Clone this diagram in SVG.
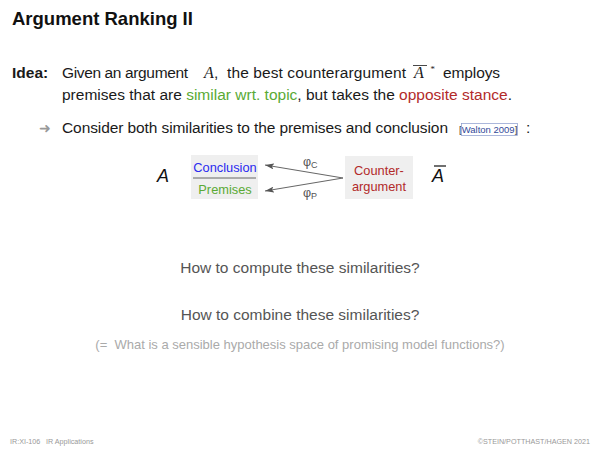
<svg xmlns="http://www.w3.org/2000/svg" width="600" height="450" viewBox="0 0 600 450">
<style>
text{font-family:"Liberation Sans",Arial,sans-serif}
.body{font-size:15.5px;fill:#1a1a1a}
.math{font-family:"Liberation Serif","Times New Roman",serif;font-style:italic}
.grn{fill:#5aaa35}
.red{fill:#b22a2a}
.box{fill:#efefef}
.lbl{font-size:12.8px}
.q{font-size:15.5px;fill:#555;text-anchor:middle}
.foot{font-size:7.2px;fill:#999}
.conn{stroke:#666;stroke-width:1;fill:none;marker-end:url(#ah)}
</style>
<defs>
<marker id="ah" markerWidth="9" markerHeight="6" refX="9" refY="3" orient="auto" markerUnits="userSpaceOnUse">
<path d="M0,0 L9,3 L0,6 L2,3 Z" fill="#555"/>
</marker>
</defs>
<rect width="600" height="450" fill="#fff"/>
<text x="12" y="25" style="font-size:18.5px;font-weight:bold;fill:#111">Argument Ranking II</text>

<g id="idea">
<text x="12" y="78" class="body" style="font-weight:bold">Idea:</text>
<text x="62" y="78" class="body" textLength="126">Given an argument</text>
<text x="204" y="78" class="body math" style="font-size:16px">A</text>
<text x="214" y="78" class="body">,</text>
<text x="227" y="78" class="body" textLength="179">the best counterargument</text>
<text x="414" y="78" class="body math" style="font-size:16px">A</text>
<line x1="413" y1="65.5" x2="427" y2="65.5" stroke="#1a1a1a" stroke-width="0.8"/>
<text x="430" y="72" class="math" style="font-size:9px;fill:#1a1a1a">*</text>
<text x="443" y="78" class="body" textLength="57">employs</text>
<text x="62" y="100" class="body" textLength="450">premises that are <tspan class="grn">similar wrt. topic</tspan>, but takes the <tspan class="red">opposite stance</tspan>.</text>
</g>

<g id="consider">
<text x="39" y="133" style="font-size:14px;fill:#999">➜</text>
<text x="62" y="133" class="body" textLength="386">Consider both similarities to the premises and conclusion</text>
<text x="459" y="133" style="font-size:9.5px;fill:#333">[<tspan fill="#334a99">Walton 2009</tspan>]</text>
<rect x="461.5" y="123.5" width="56" height="12" fill="none" stroke="#8899cc" stroke-width="0.7"/>
<text x="526" y="133" class="body">:</text>
</g>

<g id="argA">
<text x="157" y="182" style="font-size:18px;font-style:italic;fill:#111">A</text>
</g>

<g id="argBox">
<rect x="191" y="155" width="67" height="44" class="box"/>
<text x="225" y="172" class="lbl" style="fill:#2b2bf0;text-anchor:middle">Conclusion</text>
<line x1="193" y1="178" x2="256" y2="178" stroke="#666" stroke-width="1"/>
<text x="225" y="194" class="lbl grn" style="text-anchor:middle">Premises</text>
</g>

<g id="counterBox">
<rect x="345" y="156" width="68" height="43" class="box"/>
<text x="379" y="175" class="lbl red" style="text-anchor:middle">Counter-</text>
<text x="379" y="191" class="lbl red" style="text-anchor:middle">argument</text>
</g>

<g id="argAbar">
<text x="432" y="182" style="font-size:18px;font-style:italic;fill:#111">A</text>
<line x1="434" y1="166" x2="446" y2="166" stroke="#111" stroke-width="1.2"/>
</g>

<g id="connectors">
<line x1="343" y1="178" x2="265" y2="165" class="conn"/>
<line x1="343" y1="178" x2="265" y2="191" class="conn"/>
<text x="303" y="166" style="font-size:12.5px;fill:#555">φ<tspan style="font-size:9px" dy="2">C</tspan></text>
<text x="303" y="197" style="font-size:12.5px;fill:#555">φ<tspan style="font-size:9px" dy="2">P</tspan></text>
</g>

<g id="questions">
<text x="300" y="273" class="q">How to compute these similarities?</text>
<text x="300" y="320" class="q">How to combine these similarities?</text>
<text x="300" y="349" style="font-size:13px;fill:#aaa;text-anchor:middle">(=&#160; What is a sensible hypothesis space of promising model functions?)</text>
</g>

<text x="10" y="444" class="foot">IR:XI-106</text>
<text x="46" y="444" class="foot">IR Applications</text>
<text x="590" y="444" class="foot" style="text-anchor:end">©STEIN/POTTHAST/HAGEN 2021</text>
</svg>
